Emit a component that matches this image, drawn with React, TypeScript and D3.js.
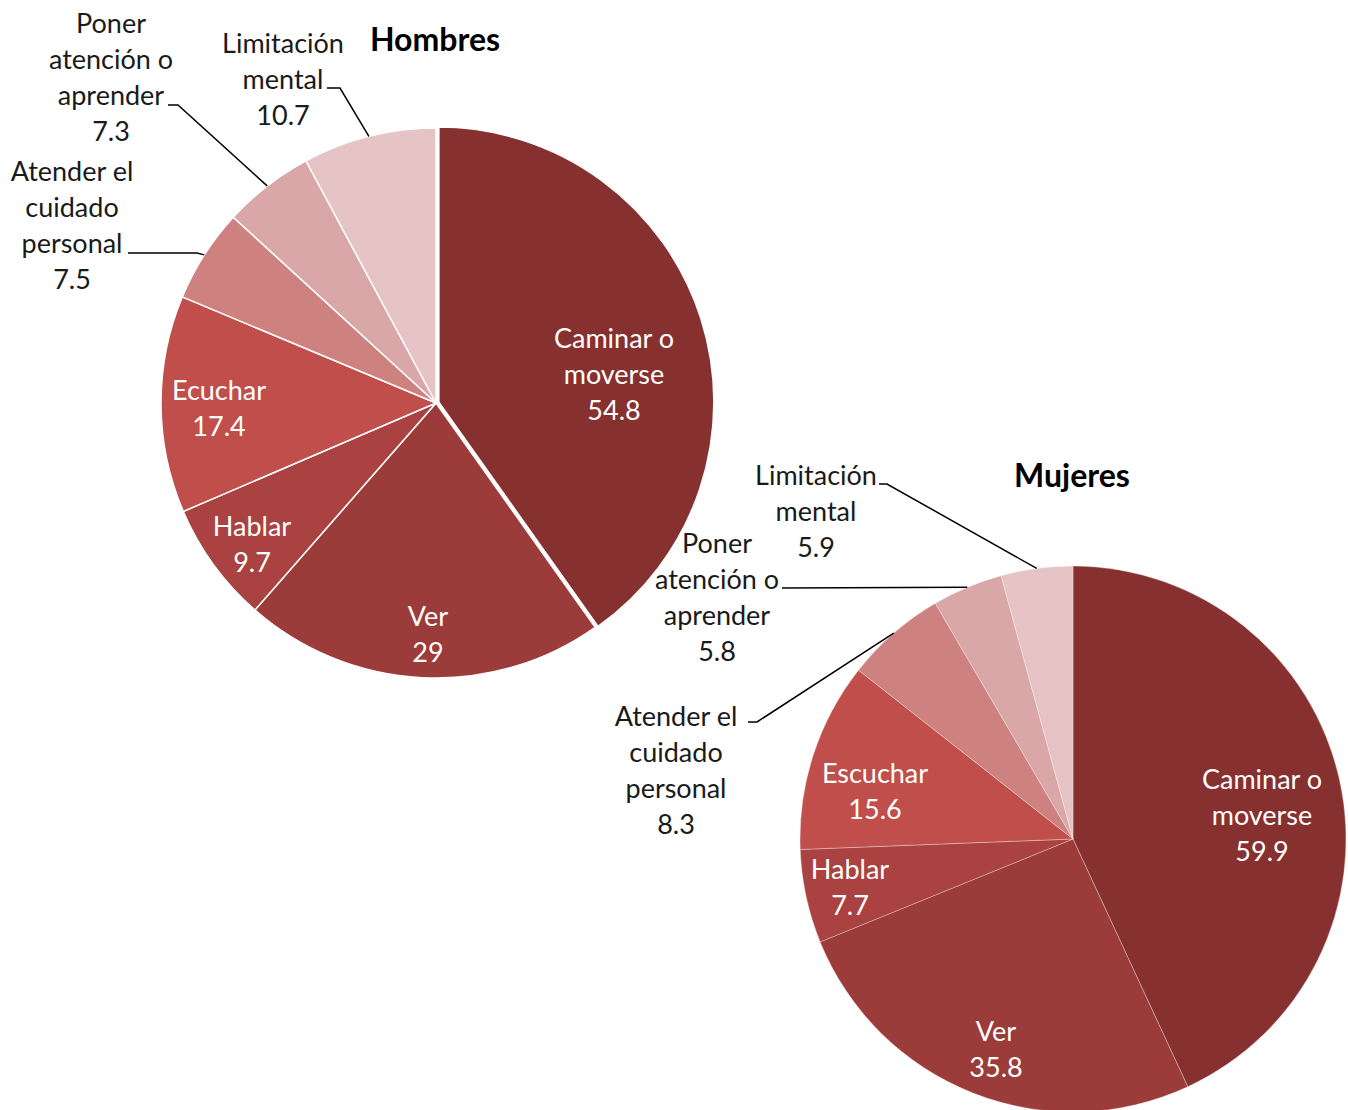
import React from 'react';
import * as d3 from 'd3';

// data
const categories = [
  'Caminar o moverse',
  'Ver',
  'Hablar',
  'Escuchar',
  'Atender el cuidado personal',
  'Poner atención o aprender',
  'Limitación mental',
];
const hombresValues = [54.8, 29, 9.7, 17.4, 7.5, 7.3, 10.7];
const mujeresValues = [59.9, 35.8, 7.7, 15.6, 8.3, 5.8, 5.9];
const hombresLabelLines = [
  ['Caminar o', 'moverse'],
  ['Ver'],
  ['Hablar'],
  ['Ecuchar'],
  ['Atender el', 'cuidado', 'personal'],
  ['Poner', 'atención o', 'aprender'],
  ['Limitación', 'mental'],
];
const mujeresLabelLines = [
  ['Caminar o', 'moverse'],
  ['Ver'],
  ['Hablar'],
  ['Escuchar'],
  ['Atender el', 'cuidado', 'personal'],
  ['Poner', 'atención o', 'aprender'],
  ['Limitación', 'mental'],
];

const colors = ['#86302f', '#9b3c3a', '#a94240', '#c04f4c', '#cd8280', '#d9a7a8', '#e6c3c5'];
const FONT = 'Lato, "Open Sans", sans-serif';
const LINE_H = 36;

// layout (label first-line centres, leader starts)
const hombresLayout = {
  title: 'Hombres', titleX: 435, titleY: 40,
  cx: 436, cy: 403, r: 275, explode: 3, stroke: 1.5, strokeOpacity: 1,
  labelPos: [[614, 338], [428, 616], [252, 526], [219, 390], [72, 171], [111, 23], [283, 43]],
  inside: [true, true, true, true, false, false, false],
  leaders: { 4: [128, 253, 197], 5: [168, 105, 178], 6: [327, 88, 340] } as Record<number, number[]>,
};
const mujeresLayout = {
  title: 'Mujeres', titleX: 1072, titleY: 476,
  cx: 1073, cy: 839, r: 273, explode: 0, stroke: 1, strokeOpacity: 0.3,
  labelPos: [[1262, 779], [996, 1031], [850, 869], [875, 773], [676, 716], [717, 543], [816, 475]],
  inside: [true, true, true, true, false, false, false],
  leaders: { 4: [748, 722, 757], 5: [782, 588, 782], 6: [879, 484, 887] } as Record<number, number[]>,
};

function Pie({ values, lines, layout }: { values: number[]; lines: string[][]; layout: typeof hombresLayout }) {
  const pie = d3.pie<number>().sort(null).value(d => d).startAngle(0).endAngle(2 * Math.PI);
  const arcs = pie(values);
  const arc = d3.arc<d3.PieArcDatum<number>>().innerRadius(0).outerRadius(layout.r);
  const { cx, cy, r } = layout;

  return (
    <g>
      <g transform={`translate(${cx},${cy})`}>
        {arcs.map((a, i) => {
          const mid = (a.startAngle + a.endAngle) / 2;
          const off = i === 0 ? layout.explode : 0;
          return (
            <path
              key={categories[i]}
              d={arc(a) || ''}
              transform={`translate(${Math.sin(mid) * off},${-Math.cos(mid) * off})`}
              fill={colors[i]}
              stroke="#fff"
              strokeWidth={layout.stroke}
              strokeOpacity={layout.strokeOpacity}
            />
          );
        })}
      </g>
      {arcs.map((a, i) => {
        const ld = layout.leaders[i];
        if (!ld) return null;
        const mid = (a.startAngle + a.endAngle) / 2;
        const ex = cx + Math.sin(mid) * r;
        const ey = cy - Math.cos(mid) * r;
        return (
          <polyline
            key={'l' + i}
            points={`${ld[0]},${ld[1]} ${ld[2]},${ld[1]} ${ex},${ey}`}
            fill="none"
            stroke="#000"
            strokeWidth={1.5}
          />
        );
      })}
      {arcs.map((a, i) => {
        const [x, y] = layout.labelPos[i];
        const txt = [...lines[i], String(values[i])];
        return (
          <text
            key={'t' + i}
            textAnchor="middle"
            fontFamily={FONT}
            fontSize={27}
            fill={layout.inside[i] ? '#fff' : '#1a1a1a'}
          >
            {txt.map((t, j) => (
              <tspan key={j} x={x} y={y + 10 + j * LINE_H}>{t}</tspan>
            ))}
          </text>
        );
      })}
      <text
        x={layout.titleX}
        y={layout.titleY + 11}
        textAnchor="middle"
        fontFamily={FONT}
        fontWeight="bold"
        fontSize={32}
        fill="#000"
      >
        {layout.title}
      </text>
    </g>
  );
}

export default function App() {
  return (
    <div style={{ position: 'absolute', left: 0, top: 0 }}>
      <svg width={1348} height={1110} style={{ display: 'block', background: '#fff' }}>
        <Pie values={hombresValues} lines={hombresLabelLines} layout={hombresLayout} />
        <Pie values={mujeresValues} lines={mujeresLabelLines} layout={mujeresLayout} />
      </svg>
    </div>
  );
}
